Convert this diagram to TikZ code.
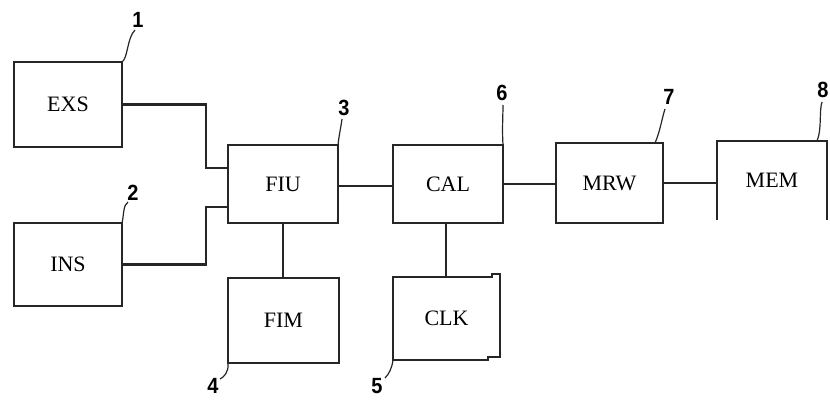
\documentclass[tikz,border=0pt]{standalone}
\usepackage{fontspec}
\setmainfont{Liberation Serif}
\newfontfamily\numfont{Liberation Sans}
\begin{document}
\begin{tikzpicture}[x=1pt,y=-1pt,
  line join=miter,
  ln/.style={draw=black!85, line width=2.2pt},
  blk/.style={ln, rectangle, inner sep=0pt, outer sep=0pt, font=\fontsize{22}{22}\selectfont},
  bare/.style={rectangle, inner sep=0pt, outer sep=0pt, font=\fontsize{22}{22}\selectfont},
  lead/.style={draw=black!85, line width=1.2pt},
  num/.style={font=\numfont\bfseries\fontsize{20}{20}\selectfont, inner sep=0pt, yscale=1.1}]
\useasboundingbox (0,0) rectangle (830,399);
\clip (0,0) rectangle (830,399);
\fill[white] (0,0) rectangle (830,399);

% blocks
\node[blk, minimum width=108pt, minimum height=85pt] (EXS) at (68,104.5) {EXS};
\node[blk, minimum width=108pt, minimum height=83pt] (INS) at (68,264.5) {INS};
\node[blk, minimum width=110pt, minimum height=78pt] (FIU) at (283,184) {FIU};
\node[blk, minimum width=111pt, minimum height=85pt] (FIM) at (283.5,320.5) {FIM};
\node[blk, minimum width=110pt, minimum height=78pt] (CAL) at (448,184) {CAL};
\node[bare, minimum width=107pt, minimum height=83pt] (CLK) at (446.5,318.5) {CLK};
\node[blk, minimum width=107pt, minimum height=80pt] (MRW) at (609.5,183) {MRW};
\node[bare, minimum width=110pt, minimum height=79pt] (MEM) at (772,180.5) {MEM};

% CLK outline with small jogs
\draw[ln] (393,277) -- (492,277) -- (492,274) -- (500,274) -- (500,357)
  -- (488,357) -- (488,360) -- (393,360) -- cycle;
% MEM outline (open at bottom)
\draw[ln] (MEM.south west) -- (MEM.north west) -- (MEM.north east) -- (MEM.south east);

% connectors
\coordinate (jx) at (206,0);
\draw[ln] (EXS.east) -- (EXS.east -| jx) |- ([yshift=16pt]FIU.west);
\draw[ln] (INS.east) -- (INS.east -| jx) |- ([yshift=-23pt]FIU.west);
\draw[ln] (FIU.south) -- (FIU.south |- FIM.north);
\draw[ln] ([yshift=-2pt]FIU.east) -- ([yshift=-2pt]CAL.west);
\draw[ln] ([xshift=-2pt]CAL.south) -- ([xshift=-2pt]CAL.south |- CLK.north);
\draw[ln] (CAL.east) -- (CAL.east -| MRW.west);
\draw[ln] (MRW.east) -- (MRW.east -| MEM.west);

% reference numerals
\node[num] (n1) at (138,20) {1};
\node[num] (n2) at (133,193) {2};
\node[num] (n3) at (344,108) {3};
\node[num] (n4) at (213,386) {4};
\node[num] (n5) at (377,386) {5};
\node[num] (n6) at (502,93) {6};
\node[num] (n7) at (669,97) {7};
\node[num] (n8) at (823,90) {8};

% leader lines
\draw[lead] (EXS.north east) .. controls (128,58) and (127,38) .. (135,30);
\draw[lead] (INS.north east) .. controls (124,215) and (123,205) .. (128,202);
\draw[lead] (FIU.north east) .. controls (339,135) and (341,127) .. (342,119);
\draw[lead] (FIM.south west) .. controls (229,372) and (224,377) .. (220,379);
\draw[lead] (393,360) .. controls (392,368) and (389,374) .. (385,378);
\draw[lead] (CAL.north east) .. controls (502,130) and (503,115) .. (503,105);
\draw[lead] (655,143) .. controls (660,132) and (662,118) .. (665,109);
\draw[lead] (817,141) .. controls (822,130) and (819,110) .. (822,102);
\end{tikzpicture}
\end{document}
